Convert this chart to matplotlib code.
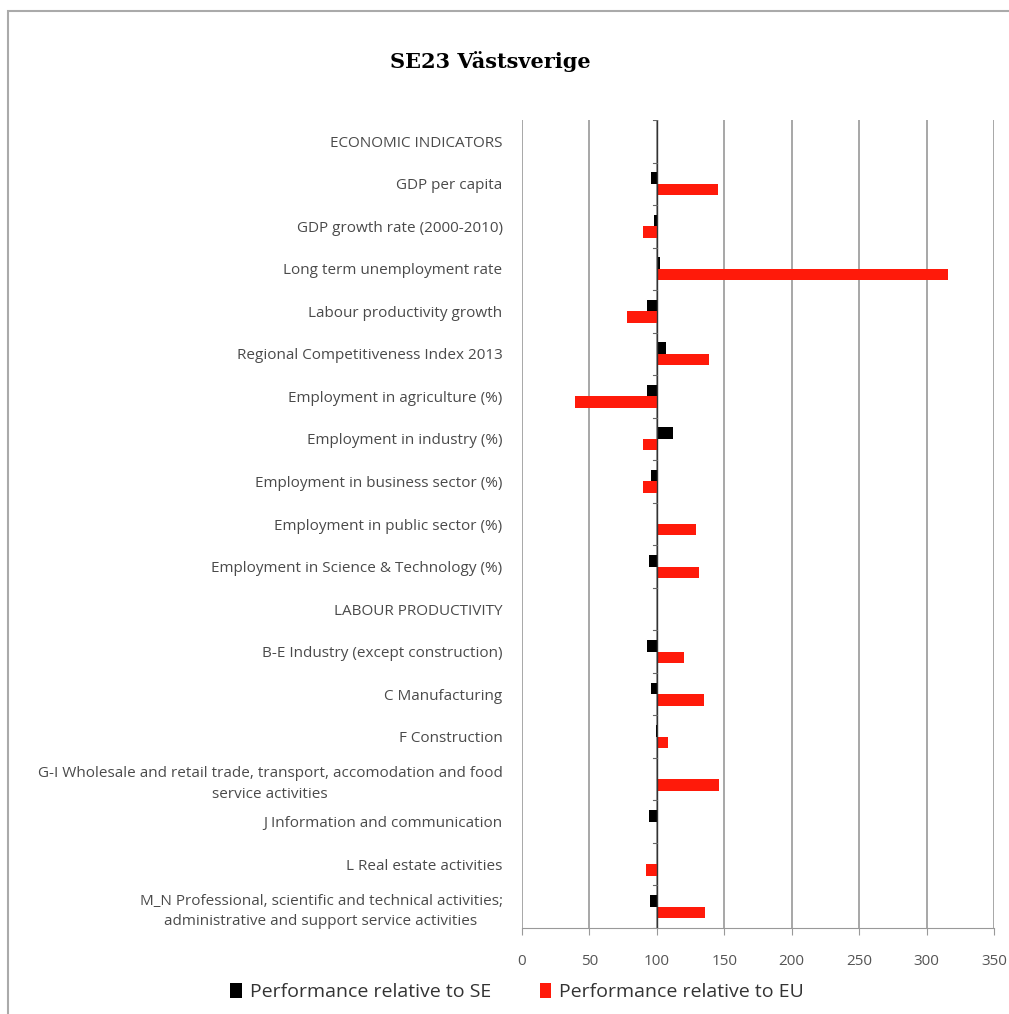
import matplotlib.pyplot as plt
from matplotlib.patches import Rectangle
import numpy as np

categories = [
    "ECONOMIC INDICATORS",
    "GDP per capita",
    "GDP growth rate (2000-2010)",
    "Long term unemployment rate",
    "Labour productivity growth",
    "Regional Competitiveness Index 2013",
    "Employment in agriculture (%)",
    "Employment in industry (%)",
    "Employment in business sector (%)",
    "Employment in public sector (%)",
    "Employment in Science & Technology (%)",
    "LABOUR PRODUCTIVITY",
    "B-E Industry (except construction)",
    "C Manufacturing",
    "F Construction",
    "G-I Wholesale and retail trade, transport, accomodation and food\nservice activities",
    "J Information and communication",
    "L Real estate activities",
    "M_N Professional, scientific and technical activities;\nadministrative and support service activities",
]

# performance relative to SE / EU (100 = average)
se_values = [100, 96, 98, 102, 93, 107, 93, 112, 96, 100, 94, 100, 93, 96, 99, 100, 94, 100, 95]
eu_values = [100, 145, 90, 316, 78, 139, 39, 90, 90, 129, 131, 100, 120, 135, 108, 146, 100, 92, 136]

xticks = [0, 50, 100, 150, 200, 250, 300, 350]

fig = plt.figure(figsize=(10.09, 10.14), dpi=100)
ax = fig.add_axes([522 / 1009, 1 - 928 / 1014, 472 / 1009, 808 / 1014])

y = np.arange(len(categories))
h = 0.27
se = np.array(se_values)
eu = np.array(eu_values)
ax.barh(y - h / 2, se - 100, left=100, height=h, color="black", label="Performance relative to SE", zorder=3)
ax.barh(y + h / 2, eu - 100, left=100, height=h, color="#ff1a0a", label="Performance relative to EU", zorder=3)

ax.set_xlim(0, 350)
ax.set_ylim(len(categories) - 0.5, -0.5)
ax.set_xticks(xticks)
ax.set_xticklabels([str(t) for t in xticks], color="#555555", fontsize=11, family="Open Sans")
ax.tick_params(axis="x", length=5, color="#999999", pad=14)
ax.grid(axis="x", color="#909090", linewidth=1.1, zorder=0)

# category axis crosses at 100
ax.axvline(100, color="#333333", linewidth=1, zorder=4)
for yi in np.arange(len(categories) + 1) - 0.5:
    ax.plot([97, 100], [yi, yi], color="#666666", linewidth=0.8, zorder=4)

ax.set_yticks(y)
ax.set_yticklabels(categories, fontsize=11, color="#4a4a4a", family="Open Sans", ma="center",
                   linespacing=1.5)
ax.tick_params(axis="y", length=0, pad=14)
for s in ["top", "right", "left"]:
    ax.spines[s].set_visible(False)
ax.spines["bottom"].set_color("#999999")

fig.text(490 / 1009, 1 - 62 / 1014, "SE23 Västsverige", ha="center", va="center",
         fontsize=15, fontweight="bold", family="DejaVu Serif")

# outer frame
fig.patches.append(Rectangle((8 / 1009, -0.05), 1.1, 1 - 11 / 1014 + 0.05, transform=fig.transFigure,
                             fill=False, edgecolor="#aaaaaa", linewidth=1.5))

fig.legend(loc="center", bbox_to_anchor=(517 / 1009, 1 - 992 / 1014), ncol=2, frameon=False,
           handlelength=0.6, handleheight=0.8, handletextpad=0.4, columnspacing=2.5,
           prop={"family": "Open Sans", "size": 14})
for t in fig.legends[0].get_texts():
    t.set_color("#333333")

fig.savefig("out.png", dpi=100)
